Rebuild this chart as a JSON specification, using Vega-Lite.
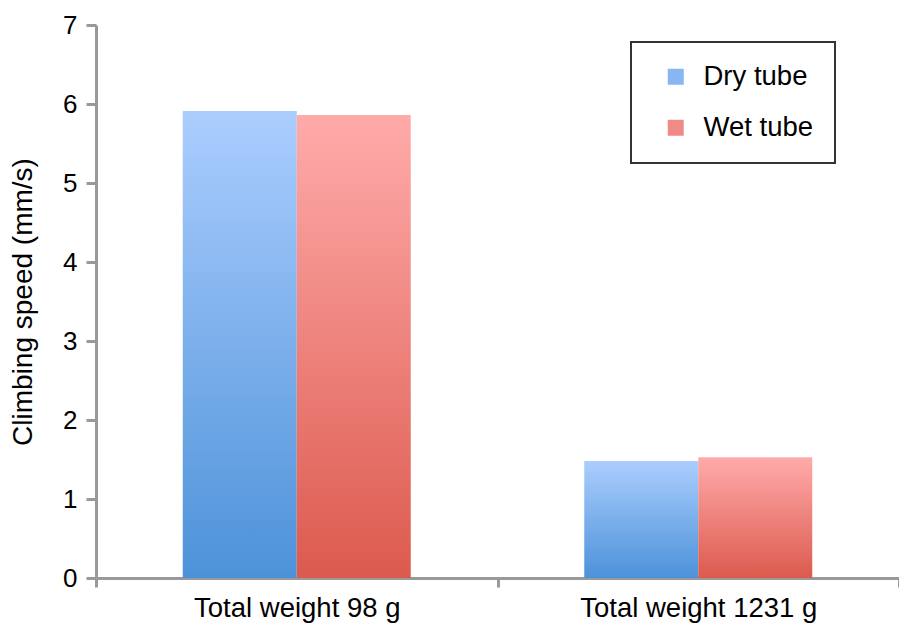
{
  "$schema": "https://vega.github.io/schema/vega-lite/v6.json",
  "width": 803,
  "height": 553,
  "autosize": {"type": "none"},
  "padding": {"left": 96, "top": 25, "right": 0, "bottom": 45},
  "background": "#ffffff",
  "config": {"view": {"stroke": null}, "font": "Liberation Sans"},
  "data": {
    "values": [
      {"group": "Total weight 98 g", "series": "Dry tube", "speed": 5.91},
      {"group": "Total weight 98 g", "series": "Wet tube", "speed": 5.86},
      {"group": "Total weight 1231 g", "series": "Dry tube", "speed": 1.48},
      {"group": "Total weight 1231 g", "series": "Wet tube", "speed": 1.53}
    ]
  },
  "encoding": {
    "x": {
      "field": "group", "type": "nominal", "sort": null,
      "scale": {"paddingInner": 0, "paddingOuter": 0},
      "axis": {
        "title": null, "labelAngle": 0, "labelFontSize": 27.5, "labelColor": "#000", "labelLimit": 400,
        "domainColor": "#999", "domainWidth": 3, "tickColor": "#999", "tickWidth": 3,
        "tickSize": 9, "tickBand": "extent", "labelPadding": 7
      }
    },
    "xOffset": {"field": "series", "type": "nominal", "sort": null, "scale": {"paddingInner": 0, "paddingOuter": 0.761}},
    "y": {
      "field": "speed", "type": "quantitative",
      "scale": {"domain": [0, 7], "nice": false},
      "axis": {
        "title": "Climbing speed (mm/s)", "values": [0, 1, 2, 3, 4, 5, 6, 7], "grid": false,
        "labelFontSize": 26, "labelColor": "#000", "labelPadding": 9,
        "domainColor": "#999", "domainWidth": 3, "tickColor": "#999", "tickWidth": 3, "tickSize": 10,
        "titleFontSize": 28, "titleFontWeight": "normal", "titleColor": "#000", "titlePadding": 25
      }
    }
  },
  "layer": [
    {
      "mark": {"type": "bar", "opacity": 0},
      "encoding": {
        "color": {
          "field": "series", "type": "nominal", "sort": null,
          "scale": {"range": ["#86b7f2", "#f08a86"]},
          "legend": {
            "orient": "none", "legendX": 535, "legendY": 17, "title": null,
            "labelFontSize": 27.5, "labelColor": "#000", "symbolType": "square", "symbolSize": 256,
            "symbolOpacity": 1, "symbolStrokeWidth": 0, "strokeColor": "#333", "padding": 21,
            "rowPadding": 22, "symbolOffset": 10, "labelOffset": 14, "labelLimit": 300,
            "encode": {"legend": {"update": {"strokeWidth": {"value": 2}}}}
          }
        }
      }
    },
    {
      "mark": {"type": "bar"},
      "encoding": {
        "fill": {
          "condition": {
            "test": "datum.series === 'Dry tube'",
            "value": {"gradient": "linear", "x1": 0, "y1": 0, "x2": 0, "y2": 1,
              "stops": [{"offset": 0, "color": "#abcdfe"}, {"offset": 1, "color": "#4d92d9"}]}
          },
          "value": {"gradient": "linear", "x1": 0, "y1": 0, "x2": 0, "y2": 1,
            "stops": [{"offset": 0, "color": "#ffabaa"}, {"offset": 1, "color": "#dc5a4e"}]}
        }
      }
    }
  ]
}
